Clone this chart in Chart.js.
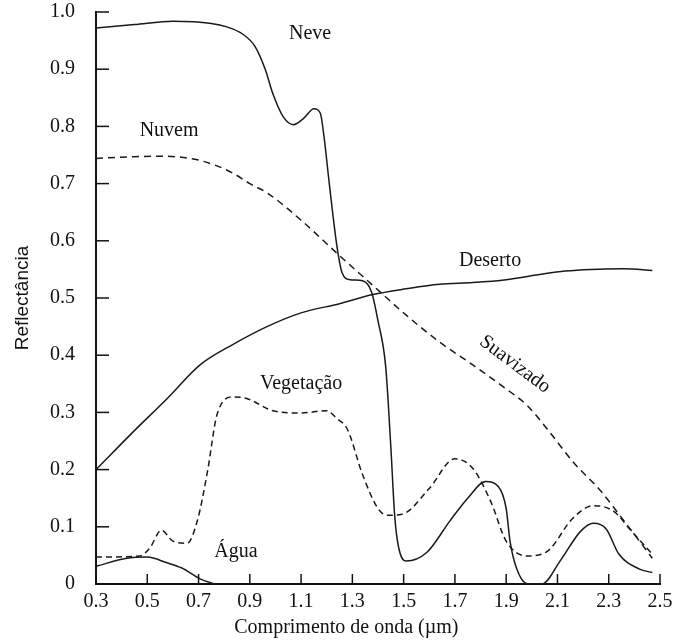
<!DOCTYPE html>
<html>
<head>
<meta charset="utf-8">
<script src="https://cdn.jsdelivr.net/npm/chart.js@4"></script>
<style>
  body { margin: 0; background: #fff; }
  #wrap { width: 679px; height: 640px; position: relative; }
</style>
</head>
<body>
<div id="wrap"><canvas id="reflChart"></canvas></div>
<script>
// tick labels
const xTicks = [0.3, 0.5, 0.7, 0.9, 1.1, 1.3, 1.5, 1.7, 1.9, 2.1, 2.3, 2.5];
const yTicks = [0, 0.1, 0.2, 0.3, 0.4, 0.5, 0.6, 0.7, 0.8, 0.9, 1.0];

// Neve
const neveX = [0.30, 0.45, 0.60, 0.75, 0.81, 0.87, 0.92, 0.96, 0.99, 1.03, 1.07, 1.11, 1.15, 1.175, 1.19, 1.21, 1.24, 1.26, 1.29, 1.34, 1.375, 1.40, 1.43, 1.45, 1.465, 1.48, 1.51, 1.59, 1.68, 1.75, 1.82, 1.87, 1.90, 1.915, 1.94, 1.985, 2.04, 2.11, 2.19, 2.24, 2.29, 2.34, 2.42, 2.47];
const neveY = [0.972, 0.978, 0.984, 0.980, 0.974, 0.962, 0.94, 0.90, 0.857, 0.817, 0.803, 0.814, 0.831, 0.823, 0.78, 0.70, 0.59, 0.544, 0.532, 0.530, 0.51, 0.46, 0.38, 0.24, 0.12, 0.065, 0.04, 0.055, 0.11, 0.15, 0.179, 0.17, 0.132, 0.075, 0.028, 0, 0, 0.04, 0.092, 0.106, 0.096, 0.052, 0.026, 0.02];

// Nuvem (suavizado)
const nuvemX = [0.30, 0.45, 0.55, 0.68, 0.76, 0.835, 0.90, 0.97, 1.10, 1.25, 1.38, 1.51, 1.64, 1.77, 1.90, 1.98, 2.06, 2.16, 2.27, 2.36, 2.42, 2.47];
const nuvemY = [0.744, 0.747, 0.748, 0.743, 0.733, 0.718, 0.70, 0.683, 0.636, 0.574, 0.522, 0.47, 0.423, 0.383, 0.341, 0.313, 0.271, 0.214, 0.162, 0.11, 0.075, 0.045];

// Deserto
const desertoX = [0.30, 0.445, 0.577, 0.706, 0.835, 0.967, 1.10, 1.25, 1.38, 1.51, 1.64, 1.77, 1.90, 2.03, 2.13, 2.23, 2.36, 2.47];
const desertoY = [0.20, 0.266, 0.324, 0.383, 0.419, 0.450, 0.474, 0.490, 0.506, 0.516, 0.524, 0.527, 0.532, 0.541, 0.547, 0.550, 0.551, 0.548];

// Vegetação
const vegX = [0.30, 0.47, 0.51, 0.555, 0.60, 0.655, 0.695, 0.735, 0.772, 0.835, 0.89, 0.99, 1.10, 1.20, 1.24, 1.28, 1.34, 1.40, 1.44, 1.50, 1.60, 1.70, 1.77, 1.84, 1.90, 1.98, 2.06, 2.16, 2.24, 2.32, 2.38, 2.47];
const vegY = [0.047, 0.049, 0.063, 0.094, 0.075, 0.071, 0.11, 0.197, 0.296, 0.327, 0.324, 0.303, 0.299, 0.303, 0.289, 0.271, 0.191, 0.132, 0.12, 0.123, 0.167, 0.219, 0.202, 0.144, 0.075, 0.049, 0.057, 0.115, 0.137, 0.127, 0.097, 0.052];

// Água
const aguaX = [0.30, 0.42, 0.50, 0.577, 0.635, 0.706, 0.764];
const aguaY = [0.031, 0.045, 0.047, 0.037, 0.028, 0.009, 0];

function pontos(xs, ys) {
    return xs.map((x, i) => ({ x: x, y: ys[i] }));
}

function serie(label, xs, ys, dash) {
    return {
        label: label,
        data: pontos(xs, ys),
        borderColor: '#1a1a1a',
        borderWidth: 1.5,
        borderDash: dash,
        pointRadius: 0,
        fill: false,
        cubicInterpolationMode: 'monotone'
    };
}

// rótulos escritos dentro do gráfico
const rotulos = [
    { text: 'Neve', x: 1.135, y: 0.962, rot: 0 },
    { text: 'Nuvem', x: 0.585, y: 0.793, rot: 0 },
    { text: 'Deserto', x: 1.837, y: 0.565, rot: 0 },
    { text: 'Vegetação', x: 1.10, y: 0.35, rot: 0 },
    { text: 'Água', x: 0.846, y: 0.057, rot: 0 },
    { text: 'Suavizado', x: 1.934, y: 0.384, rot: 37 }
];

const serifFont = "'Liberation Serif', 'Times New Roman', serif";

const desenhoExtra = {
    id: 'desenhoExtra',
    afterDraw(chart) {
        const ctx = chart.ctx;
        const xs = chart.scales.x;
        const ys = chart.scales.y;
        ctx.save();
        // marcas dos ticks para dentro
        ctx.strokeStyle = '#111';
        ctx.lineWidth = 1.5;
        xs.ticks.forEach(t => {
            const px = xs.getPixelForValue(t.value);
            ctx.beginPath();
            ctx.moveTo(px, ys.bottom);
            ctx.lineTo(px, ys.bottom - 10);
            ctx.stroke();
        });
        ys.ticks.forEach(t => {
            const py = ys.getPixelForValue(t.value);
            ctx.beginPath();
            ctx.moveTo(xs.left, py);
            ctx.lineTo(xs.left + 13, py);
            ctx.stroke();
        });
        // rótulos das curvas
        ctx.fillStyle = '#111';
        ctx.font = '20px ' + serifFont;
        ctx.textAlign = 'center';
        ctx.textBaseline = 'middle';
        rotulos.forEach(r => {
            ctx.save();
            ctx.translate(xs.getPixelForValue(r.x), ys.getPixelForValue(r.y));
            ctx.rotate(r.rot * Math.PI / 180);
            ctx.fillText(r.text, 0, 0);
            ctx.restore();
        });
        // título do eixo x
        ctx.font = '20px ' + serifFont;
        ctx.fillText('Comprimento de onda (µm)', xs.getPixelForValue(1.3) - 6, 628);
        ctx.restore();
    }
};

const ctx = document.getElementById('reflChart').getContext('2d');
const chart = new Chart(ctx, {
    type: 'line',
    data: {
        datasets: [
            serie('Neve', neveX, neveY, []),
            serie('Nuvem', nuvemX, nuvemY, [7, 5]),
            serie('Deserto', desertoX, desertoY, []),
            serie('Vegetação', vegX, vegY, [6, 4]),
            serie('Água', aguaX, aguaY, [])
        ]
    },
    options: {
        responsive: true,
        maintainAspectRatio: false,
        animation: false,
        layout: { padding: { left: 0, right: 19, top: 12, bottom: 0 } },
        plugins: {
            legend: { display: false },
            tooltip: { enabled: false }
        },
        scales: {
            x: {
                type: 'linear',
                min: 0.3,
                max: 2.5,
                afterBuildTicks: scale => { scale.ticks = xTicks.map(v => ({ value: v })); },
                afterFit: scale => {
                    scale.height = 56;
                    scale.paddingLeft = 0;
                    scale.paddingRight = 0;
                },
                grid: { display: false, drawTicks: false },
                border: { display: true, color: '#111', width: 2 },
                ticks: {
                    color: '#111',
                    padding: 6,
                    maxRotation: 0,
                    autoSkip: false,
                    font: { family: serifFont, size: 20 },
                    callback: v => v.toFixed(1)
                }
            },
            y: {
                type: 'linear',
                min: 0,
                max: 1.0,
                afterBuildTicks: scale => { scale.ticks = yTicks.map(v => ({ value: v })); },
                afterFit: scale => {
                    scale.width = 96;
                    scale.paddingTop = 0;
                    scale.paddingBottom = 0;
                },
                grid: { display: false, drawTicks: false },
                border: { display: true, color: '#111', width: 2 },
                ticks: {
                    color: '#111',
                    padding: 21,
                    autoSkip: false,
                    font: { family: serifFont, size: 20 },
                    callback: v => (v === 0 ? '0' : v.toFixed(1))
                },
                title: {
                    display: true,
                    text: 'Reflectância',
                    color: '#111',
                    font: { family: "'Liberation Sans', Arial, sans-serif", size: 19 },
                    padding: { top: 11, bottom: 0 }
                }
            }
        }
    },
    plugins: [desenhoExtra]
});
</script>
</body>
</html>
